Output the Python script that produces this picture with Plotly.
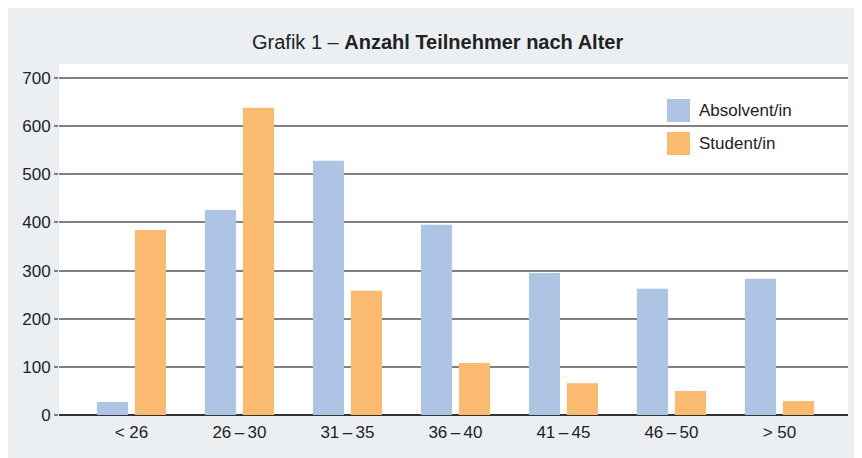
import plotly.graph_objects as go

categories = ["< 26", "26\u2009\u2013\u200930", "31\u2009\u2013\u200935", "36\u2009\u2013\u200940",
              "41\u2009\u2013\u200945", "46\u2009\u2013\u200950", "> 50"]
absolvent = [27, 426, 528, 395, 295, 262, 283]
student = [384, 638, 258, 108, 66, 50, 29]
series_names = ["Absolvent/in", "Student/in"]
series_colors = ["#AEC4E4", "#FABA70"]
y_ticks = [0, 100, 200, 300, 400, 500, 600, 700]

OFF = 8  # page body margin
W, H = 862 - OFF, 458 - OFF
ML, MR, MT, MB = 59 - OFF, 14, 64 - OFF, 43
FONT = "Liberation Sans Narrow, Liberation Sans, sans-serif"


def px_x(p):
    return (p - OFF - ML) / (W - ML - MR)


def px_y(p):
    return (H - MB - (p - OFF)) / (H - MT - MB)


fig = go.Figure()
for name, vals, col in zip(series_names, [absolvent, student], series_colors):
    fig.add_trace(go.Bar(x=categories, y=vals, name=name, marker_color=col,
                         marker_line_width=0, showlegend=False))

shapes = []
annotations = []
# custom legend
for i, (name, col) in enumerate(zip(series_names, series_colors)):
    top = 99 + i * 33
    shapes.append(dict(type="rect", xref="paper", yref="paper",
                       x0=px_x(667), x1=px_x(690), y0=px_y(top + 23), y1=px_y(top),
                       fillcolor=col, line_width=0, layer="above"))
    annotations.append(dict(text=name, xref="paper", yref="paper", x=px_x(697),
                            y=px_y(top + 11.5), xanchor="left", yanchor="middle",
                            showarrow=False, font=dict(family=FONT, size=17, color="#222")))

annotations.append(dict(text="Grafik 1 \u2013 <b>Anzahl Teilnehmer nach Alter</b>",
                        xref="paper", yref="paper", x=px_x(437), y=px_y(42),
                        xanchor="center", yanchor="middle", showarrow=False,
                        font=dict(family=FONT, size=20, color="#222")))

fig.update_layout(
    width=W, height=H,
    margin=dict(l=ML, r=MR, t=MT, b=MB, pad=0),
    paper_bgcolor="#ECEFF2", plot_bgcolor="white",
    barmode="group", bargap=0.296, bargroupgap=0.184,
    font=dict(family=FONT, size=16, color="#222"),
    shapes=shapes, annotations=annotations,
    showlegend=False,
)
fig.update_xaxes(range=[-0.671, 6.635], showgrid=False, ticks="", showline=False,
                 ticklabelstandoff=5,
                 tickfont=dict(size=17, family="Liberation Sans, sans-serif"))
fig.update_yaxes(range=[0, 729], tickvals=y_ticks, showgrid=True, gridcolor="#808080",
                 gridwidth=1.5, zeroline=True, zerolinecolor="#333", zerolinewidth=1.5,
                 ticks="outside", ticklen=4, tickcolor="#808080", tickwidth=1.5,
                 showline=False, tickfont=dict(size=17, family="Liberation Sans, sans-serif"))

fig.write_html("out.html")
